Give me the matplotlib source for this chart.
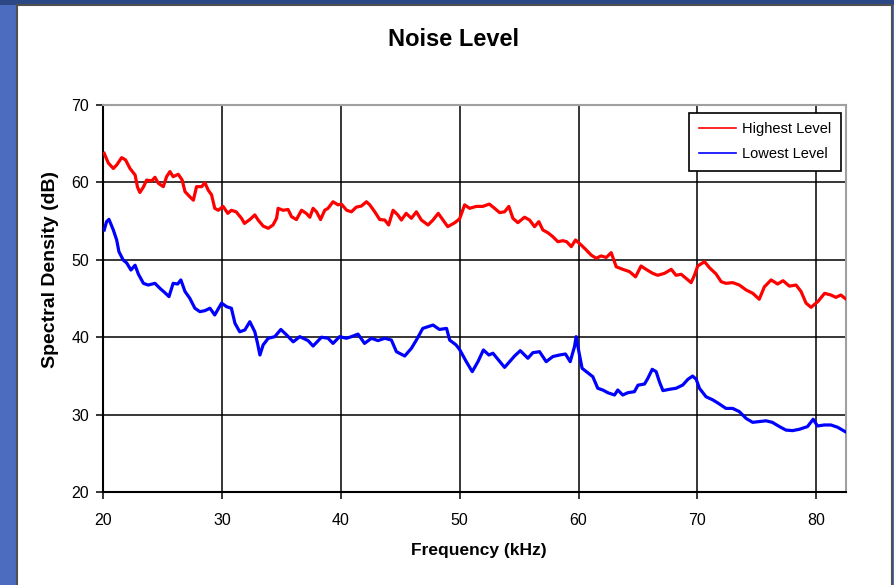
"""Noise Level chart: highest and lowest spectral density vs frequency."""
import numpy as np
import matplotlib.pyplot as plt
from matplotlib.patches import Rectangle

plt.rcParams['font.family'] = ['Liberation Sans', 'DejaVu Sans']

# --- data (kHz, dB) ---
high_freq = [20.1, 20.45, 20.87, 21.15, 21.57, 21.9, 22.27, 22.7, 22.9, 23.1, 23.4, 23.67,
             24.1, 24.37, 24.65, 25.07, 25.35, 25.63, 25.9, 26.33, 26.66, 26.9, 27.3, 27.6,
             27.87, 28.3, 28.57, 28.85, 29.13, 29.4, 29.7, 30.1, 30.5, 30.8, 31.2, 31.65,
             31.9, 32.35, 32.77, 33.05, 33.47, 33.9, 34.3, 34.6, 34.73, 35.15, 35.57, 35.86,
             36.27, 36.7, 37.1, 37.4, 37.67, 37.96, 38.3, 38.65, 38.93, 39.35, 39.77, 40.05,
             40.5, 40.9, 41.3, 41.74, 42.16, 42.44, 42.86, 43.28, 43.7, 44.03, 44.4, 44.8,
             45.1, 45.5, 45.94, 46.36, 46.78, 47.34, 47.76, 48.2, 48.6, 49.0, 49.6, 50.0,
             50.42, 50.84, 51.4, 51.95, 52.5, 52.94, 53.36, 53.78, 54.14, 54.48, 54.9, 55.46,
             55.88, 56.3, 56.66, 57.0, 57.42, 57.84, 58.26, 58.68, 59.0, 59.39, 59.75, 60.23,
             60.65, 61.07, 61.49, 61.9, 62.33, 62.75, 63.17, 63.72, 64.29, 64.8, 65.26, 65.68,
             66.24, 66.66, 67.23, 67.8, 68.2, 68.63, 69.05, 69.47, 69.75, 70.03, 70.6, 71.0,
             71.57, 72.0, 72.4, 72.97, 73.53, 74.1, 74.66, 75.2, 75.63, 76.2, 76.75, 77.2,
             77.74, 78.3, 78.72, 79.14, 79.56, 80.13, 80.7, 81.23, 81.65, 82.07, 82.43]
high_db = [63.76, 62.5, 61.8, 62.25, 63.2, 62.9, 61.8, 60.96, 59.4, 58.7, 59.4, 60.3,
           60.2, 60.66, 59.9, 59.45, 60.74, 61.4, 60.74, 61.05, 60.3, 58.8, 58.15, 57.7,
           59.45, 59.45, 59.96, 59.0, 58.4, 56.65, 56.4, 56.9, 56.0, 56.4, 56.2, 55.36,
           54.7, 55.2, 55.8, 55.14, 54.36, 54.07, 54.5, 55.36, 56.65, 56.4, 56.5, 55.57,
           55.2, 56.4, 56.0, 55.5, 56.65, 56.2, 55.2, 56.4, 56.65, 57.5, 57.1, 57.2,
           56.4, 56.2, 56.8, 56.95, 57.5, 57.1, 56.2, 55.2, 55.14, 54.5, 56.4, 55.8,
           55.14, 56.0, 55.36, 56.2, 55.14, 54.5, 55.14, 56.0, 55.14, 54.28, 54.8, 55.3,
           57.1, 56.65, 56.9, 56.9, 57.2, 56.65, 56.1, 56.2, 56.9, 55.36, 54.8, 55.5,
           55.14, 54.28, 54.93, 53.85, 53.5, 52.99, 52.34, 52.47, 52.34, 51.7, 52.56, 51.9,
           51.27, 50.6, 50.2, 50.5, 50.3, 50.92, 49.1, 48.77, 48.47, 47.8, 49.2, 48.77,
           48.25, 48.0, 48.25, 48.77, 48.0, 48.13, 47.6, 47.05, 48.0, 49.2, 49.76, 49.0,
           48.17, 47.17, 46.96, 47.05, 46.74, 46.1, 45.67, 44.9, 46.5, 47.4, 46.87, 47.3,
           46.6, 46.74, 45.9, 44.4, 43.86, 44.6, 45.67, 45.45, 45.15, 45.45, 45.0]

low_freq = [20.1, 20.3, 20.5, 20.87, 21.15, 21.34, 21.7, 21.99, 22.35, 22.7, 22.97, 23.4,
            23.8, 24.37, 24.8, 25.2, 25.55, 25.9, 26.28, 26.55, 26.9, 27.3, 27.73, 28.15,
            28.57, 29.0, 29.4, 29.97, 30.4, 30.8, 31.1, 31.5, 31.93, 32.35, 32.77, 33.0,
            33.2, 33.47, 33.9, 34.45, 34.96, 35.44, 36.0, 36.55, 37.25, 37.67, 38.38, 38.93,
            39.35, 39.9, 40.48, 40.9, 41.45, 42.0, 42.58, 43.13, 43.7, 44.26, 44.68, 45.38,
            45.94, 46.36, 46.9, 47.76, 48.3, 48.9, 49.16, 49.7, 50.0, 50.56, 51.06, 51.54,
            52.0, 52.46, 52.8, 53.22, 53.78, 54.2, 54.62, 55.1, 55.74, 56.16, 56.72, 57.28,
            57.84, 58.4, 58.9, 59.3, 59.66, 59.8, 60.03, 60.3, 60.78, 61.2, 61.62, 62.04,
            62.46, 63.03, 63.3, 63.72, 64.15, 64.7, 65.0, 65.55, 65.83, 66.2, 66.53, 66.8,
            67.1, 67.65, 68.2, 68.77, 69.2, 69.6, 69.9, 70.17, 70.73, 71.3, 71.85, 72.4,
            72.97, 73.53, 74.1, 74.65, 75.2, 75.77, 76.3, 76.9, 77.45, 78.0, 78.57, 79.26,
            79.74, 80.1, 80.67, 81.23, 81.8, 82.43]
low_db = [53.85, 54.93, 55.23, 53.85, 52.56, 51.05, 49.97, 49.6, 48.68, 49.3, 48.17, 46.96,
          46.74, 46.96, 46.3, 45.76, 45.24, 46.96, 46.87, 47.4, 45.9, 45.03, 43.74, 43.3,
          43.43, 43.74, 42.87, 44.4, 43.94, 43.74, 41.8, 40.7, 40.93, 42.0, 40.7, 39.2,
          37.7, 39.0, 39.86, 40.07, 41.0, 40.3, 39.4, 40.07, 39.56, 38.86, 40.0, 39.86,
          39.2, 40.07, 39.86, 40.07, 40.4, 39.2, 39.86, 39.56, 39.86, 39.63, 38.13, 37.57,
          38.56, 39.63, 41.14, 41.57, 41.0, 41.14, 39.63, 39.0, 38.4, 36.84, 35.55, 36.84,
          38.35, 37.7, 37.93, 37.15, 36.1, 36.84, 37.57, 38.26, 37.28, 38.0, 38.13, 36.84,
          37.5, 37.7, 37.83, 36.84, 38.77, 40.07, 38.13, 35.98, 35.4, 34.9, 33.4, 33.18,
          32.83, 32.53, 33.18, 32.53, 32.83, 32.96, 33.8, 33.95, 34.68, 35.85, 35.55, 34.26,
          33.1, 33.27, 33.4, 33.82, 34.56, 34.98, 34.56, 33.4, 32.3, 31.9, 31.37, 30.8,
          30.8, 30.38, 29.5, 29.0, 29.1, 29.2, 29.0, 28.45, 28.0, 27.93, 28.1, 28.45,
          29.4, 28.53, 28.66, 28.66, 28.36, 27.8]

x_ticks = [20, 30, 40, 50, 60, 70, 80]
y_ticks = [20, 30, 40, 50, 60, 70]

W, H = 895, 585
fig = plt.figure(figsize=(W / 100, H / 100), dpi=100, facecolor='#4b6cbf')

# slide background: darker band at the top, white chart panel
fig.patches.append(Rectangle((0, 1 - 5 / H), 1, 5 / H, transform=fig.transFigure,
                             facecolor='#2b4784', edgecolor='none', zorder=0))
fig.patches.append(Rectangle((17 / W, -0.01), 875 / W, 1 - 5 / H + 0.01,
                             transform=fig.transFigure, facecolor='white',
                             edgecolor='#505050', linewidth=1.5, zorder=1))

ax = fig.add_axes([103 / W, 1 - 492 / H, 743 / W, 387 / H])
ax.set_zorder(2)
ax.plot(high_freq, high_db, color='#ff0000', lw=2.3, label='Highest Level', zorder=3)
ax.plot(low_freq, low_db, color='#0000ff', lw=2.3, label='Lowest Level', zorder=3)

ax.set_xlim(20, 82.5)
ax.set_ylim(20, 70)
ax.set_xticks(x_ticks)
ax.set_yticks(y_ticks)
ax.grid(True, color='black', lw=1.1)
ax.tick_params(axis='both', direction='out', length=5, width=1.1, colors='black',
               labelsize=11.5)
ax.tick_params(axis='x', pad=10)
ax.tick_params(axis='y', pad=5)
for side in ['left', 'bottom']:
    ax.spines[side].set_color('black')
    ax.spines[side].set_linewidth(1.5)
for side in ['top', 'right']:
    ax.spines[side].set_color('#a0a0a0')
    ax.spines[side].set_linewidth(1.5)

leg = ax.legend(loc='upper right', bbox_to_anchor=(841 / W, 1 - 113 / H),
                bbox_transform=fig.transFigure, borderaxespad=0, fancybox=False,
                edgecolor='black', framealpha=1, fontsize=10.5, handlelength=2.6,
                handletextpad=0.4, labelspacing=0.75, borderpad=0.65)
leg.get_frame().set_linewidth(1.2)
for line in leg.get_lines():
    line.set_linewidth(1.2)

fig.text(454 / W, 1 - 40 / H, 'Noise Level', ha='center', va='center',
         fontsize=17, fontweight='bold')
fig.text(479 / W, 1 - 550 / H, 'Frequency (kHz)', ha='center', va='center',
         fontsize=12.5, fontweight='bold')
fig.text(51 / W, 1 - 270 / H, 'Spectral Density (dB)', ha='center', va='center',
         rotation=90, fontsize=14, fontweight='bold')

fig.savefig('out.png', dpi=100, facecolor=fig.get_facecolor())
